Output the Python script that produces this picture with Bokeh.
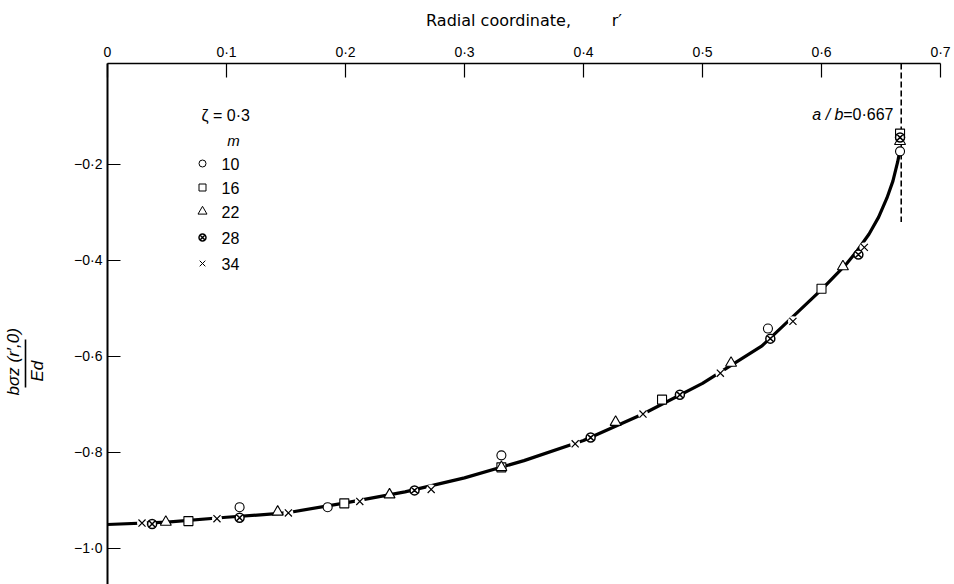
from bokeh.plotting import figure
from bokeh.models import Range1d, FixedTicker, LinearAxis
from bokeh.core.properties import value
from bokeh.embed import file_html
from bokeh.resources import INLINE

# ---------------- data ----------------
x_ticks = [0.0, 0.1, 0.2, 0.3, 0.4, 0.5, 0.6, 0.7]
x_tick_labels = ["0", "0·1", "0·2", "0·3", "0·4", "0·5", "0·6", "0·7"]
y_ticks = [-1.0, -0.8, -0.6, -0.4, -0.2]
y_tick_labels = ["−1·0", "−0·8", "−0·6", "−0·4", "−0·2"]

# theoretical curve
r_curve = [0.0, 0.05, 0.10, 0.15, 0.20, 0.25, 0.30, 0.35, 0.40, 0.45, 0.50,
           0.55, 0.60, 0.62, 0.63, 0.64, 0.648, 0.655, 0.66, 0.664, 0.666]
s_curve = [-0.950, -0.945, -0.935, -0.926, -0.905, -0.882, -0.853, -0.817,
           -0.775, -0.720, -0.656, -0.578, -0.461, -0.410, -0.380, -0.345,
           -0.31, -0.27, -0.235, -0.195, -0.17]

# m = 10 (open circles)
r_m10 = [0.111, 0.185, 0.331, 0.555, 0.666]
s_m10 = [-0.914, -0.914, -0.806, -0.542, -0.173]
# m = 16 (squares)
r_m16 = [0.068, 0.199, 0.331, 0.466, 0.600, 0.666]
s_m16 = [-0.943, -0.906, -0.831, -0.690, -0.459, -0.136]
# m = 22 (triangles)
r_m22 = [0.049, 0.143, 0.237, 0.331, 0.427, 0.524, 0.618, 0.666]
s_m22 = [-0.945, -0.924, -0.888, -0.831, -0.737, -0.614, -0.413, -0.152]
# m = 28 (crossed circles)
r_m28 = [0.0375, 0.111, 0.258, 0.406, 0.481, 0.557, 0.631, 0.666]
s_m28 = [-0.949, -0.936, -0.879, -0.769, -0.680, -0.563, -0.388, -0.144]
# m = 34 (crosses)
r_m34 = [0.029, 0.092, 0.152, 0.212, 0.272, 0.393, 0.450, 0.515, 0.576, 0.636]
s_m34 = [-0.947, -0.938, -0.926, -0.902, -0.877, -0.782, -0.720, -0.635, -0.527, -0.373]

m_values = ["10", "16", "22", "28", "34"]
zeta_text = "ζ = 0·3"
a_over_b = 0.667
a_over_b_text = "=0·667"
y_label_num = "bσz (r′,0)"
y_label_den = "Ed"

# ---------------- layout ----------------
W, H = 954, 584
FL, FR, FT, FB = 107, 14, 63, 0
X0, X1 = 0.0, 0.7
Y0, Y1 = -1.075, 0.01
fw, fh = W - FL - FR, H - FT - FB

def px_x(X):
    return X0 + (X - FL) * (X1 - X0) / fw

def px_y(Y):
    return Y1 - (Y - FT) * (Y1 - Y0) / fh

FONT = "Liberation Sans"
NB = "\u00a0"
INK = "black"

p = figure(width=W, height=H, output_backend="svg", toolbar_location=None,
           x_range=Range1d(X0, X1), y_range=Range1d(Y0, Y1),
           x_axis_location="above", y_axis_location="left",
           min_border_left=FL, min_border_right=FR,
           min_border_top=FT, min_border_bottom=FB)
p.outline_line_color = None
p.xgrid.visible = False
p.ygrid.visible = False
p.background_fill_color = "white"
p.border_fill_color = "white"

xa = p.xaxis[0]
xa.ticker = FixedTicker(ticks=x_ticks)
xa.major_label_overrides = dict(zip(x_ticks, x_tick_labels))
xa.major_tick_in = 14
xa.major_tick_out = 0
xa.minor_tick_in = 0
xa.minor_tick_out = 0
xa.axis_line_width = 1.5
xa.axis_line_color = INK
xa.major_tick_line_width = 1.2
xa.major_tick_line_color = INK
xa.major_label_text_font = FONT
xa.major_label_text_font_size = "14px"
xa.major_label_text_color = INK
xa.major_label_standoff = 4
xa.axis_label = "Radial coordinate," + NB * 8 + "r′"
xa.axis_label_text_font = "DejaVu Sans"
xa.axis_label_text_font_style = "normal"
xa.axis_label_text_font_size = "16px"
xa.axis_label_text_color = INK
xa.axis_label_standoff = 11

# main y axis: denominator "Ed" as its label
ya = p.yaxis[0]
ya.ticker = FixedTicker(ticks=y_ticks)
ya.major_label_overrides = dict(zip(y_ticks, y_tick_labels))
ya.major_tick_in = 13
ya.major_tick_out = 0
ya.minor_tick_in = 0
ya.minor_tick_out = 0
ya.axis_line_width = 2
ya.axis_line_color = INK
ya.major_tick_line_width = 1.2
ya.major_tick_line_color = INK
ya.major_label_text_font = FONT
ya.major_label_text_font_size = "14px"
ya.major_label_text_color = INK
ya.major_label_standoff = 5
ya.axis_label = y_label_den + NB * 20
ya.axis_label_text_font = FONT
ya.axis_label_text_font_size = "17px"
ya.axis_label_text_font_style = "italic"
ya.axis_label_text_color = INK
ya.axis_label_standoff = 24

# outer axis: only a short line (fraction bar) and the numerator as label
frac = LinearAxis(bounds=(-0.665, -0.565), ticker=FixedTicker(ticks=[]),
                  axis_line_width=1.6, axis_line_color=INK,
                  major_tick_in=0, major_tick_out=0,
                  minor_tick_in=0, minor_tick_out=0,
                  major_label_text_font_size="0px", major_label_standoff=0,
                  axis_label=y_label_num + NB * 16,
                  axis_label_text_font=FONT, axis_label_text_font_size="17px",
                  axis_label_text_font_style="italic", axis_label_text_color=INK,
                  axis_label_standoff=3)
p.add_layout(frac, "left")

# theory curve
p.line(r_curve, s_curve, line_width=3.2, line_color=INK)

# dashed line at a/b
p.segment(x0=[a_over_b], y0=[Y1], x1=[a_over_b], y1=[-0.32],
          line_dash="6 3", line_width=1.6, line_color=INK)

mk = dict(line_color=INK, fill_color="white")
# white halos under the crosses to break the curve
p.scatter(r_m34, s_m34, marker="circle", size=10, fill_color="white", line_color=None)
p.scatter(r_m10, s_m10, marker="circle", size=9, line_width=1.1, **mk)
p.scatter(r_m16, s_m16, marker="square", size=9, line_width=1.1, **mk)
p.scatter(r_m22, s_m22, marker="triangle", size=11, line_width=1.1, **mk)
p.scatter(r_m28, s_m28, marker="circle_x", size=9, line_width=1.5, **mk)
p.scatter(r_m34, s_m34, marker="x", size=10, line_width=1.2, line_color=INK)

# ---------------- legend (drawn as glyphs) ----------------
leg_x = px_x(202)
txt_x = px_x(221)
rows_Y = [163, 187, 211, 237, 263]
markers = [("circle", 7, 1.0), ("square", 7, 1.0), ("triangle", 9, 1.0),
           ("circle_x", 7, 1.5), ("x", 8, 1.0)]
for (mkname, sz, lw), Yr, lab in zip(markers, rows_Y, m_values):
    yy = px_y(Yr)
    if mkname == "x":
        p.scatter([leg_x], [yy], marker=mkname, size=sz, line_width=lw, line_color=INK)
    else:
        p.scatter([leg_x], [yy], marker=mkname, size=sz, line_width=lw, **mk)
    p.text([txt_x], [yy], text=[lab], text_font=value(FONT), text_font_size="16px",
           text_align="left", text_baseline="middle", text_color=INK)

p.text([px_x(201)], [px_y(115)], text=[zeta_text], text_font=value(FONT),
       text_font_size="16px", text_align="left", text_baseline="middle",
       text_color=INK)
p.text([px_x(233)], [px_y(140)], text=["m"], text_font=value(FONT),
       text_font_size="15px", text_font_style="italic", text_align="center",
       text_baseline="middle", text_color=INK)

# a/b label
p.text([px_x(893)], [px_y(114)], text=[a_over_b_text], text_font=value(FONT),
       text_font_size="16px", text_align="right", text_baseline="middle",
       text_color=INK)
p.text([px_x(893 - 50)], [px_y(114)], text=["a / b"], text_font=value(FONT),
       text_font_size="16px", text_font_style="italic", text_align="right",
       text_baseline="middle", text_color=INK)

open("out.html", "w").write(file_html(p, INLINE))
